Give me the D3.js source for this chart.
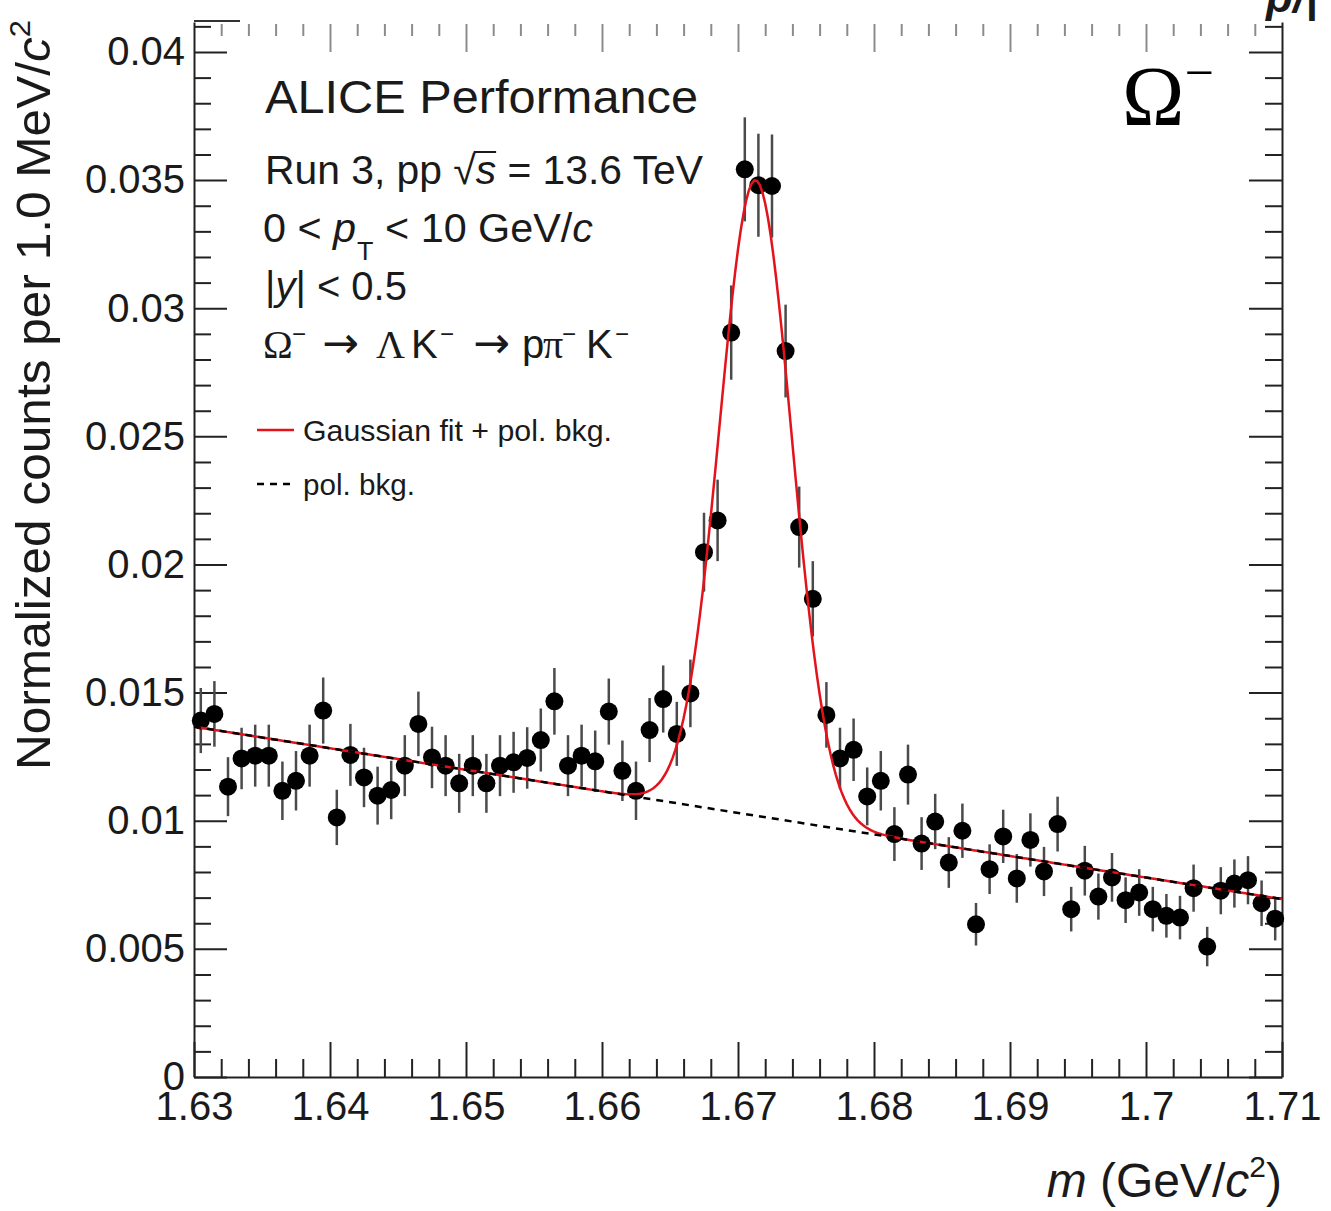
<!DOCTYPE html>
<html>
<head>
<meta charset="utf-8">
<script src="https://cdn.jsdelivr.net/npm/d3@7"></script>
<style>
  body { margin: 0; background: #fff; }
  svg { display: block; font-family: 'Liberation Sans', Arial, Helvetica, sans-serif; }
  .axis path, .axis line { stroke: #222; stroke-width: 2; }
  .axis text { font-family: 'Liberation Sans', Arial, sans-serif; font-size: 40px; fill: #1a1a1a; }
  .axis-top line { stroke: #8c8c8c; }
  .serif { font-family: 'Liberation Serif', 'Times New Roman', serif; }
  .arrow { font-family: 'DejaVu Sans', sans-serif; font-size: 44px; }
</style>
</head>
<body>
<script>

// Bin centres of the invariant mass histogram (GeV/c^2):
var mass = [
  1.6305, 1.6315, 1.6325, 1.6335, 1.6345, 1.6355, 1.6365, 1.6375, 1.6385, 1.6395,
  1.6405, 1.6415, 1.6425, 1.6435, 1.6445, 1.6455, 1.6465, 1.6475, 1.6485, 1.6495,
  1.6505, 1.6515, 1.6525, 1.6535, 1.6545, 1.6555, 1.6565, 1.6575, 1.6585, 1.6595,
  1.6605, 1.6615, 1.6625, 1.6635, 1.6645, 1.6655, 1.6665, 1.6675, 1.6685, 1.6695,
  1.6705, 1.6715, 1.6725, 1.6735, 1.6745, 1.6755, 1.6765, 1.6775, 1.6785, 1.6795,
  1.6805, 1.6815, 1.6825, 1.6835, 1.6845, 1.6855, 1.6865, 1.6875, 1.6885, 1.6895,
  1.6905, 1.6915, 1.6925, 1.6935, 1.6945, 1.6955, 1.6965, 1.6975, 1.6985, 1.6995,
  1.7005, 1.7015, 1.7025, 1.7035, 1.7045, 1.7055, 1.7065, 1.7075, 1.7085, 1.7095
];

// Normalized counts per bin:
var counts = [
  0.01391, 0.01417, 0.01133, 0.01243, 0.01254, 0.01254, 0.01117, 0.01156, 0.01254, 0.01430,
  0.01013, 0.01257, 0.01169, 0.01098, 0.01120, 0.01215, 0.01378, 0.01247, 0.01215, 0.01146,
  0.01215, 0.01146, 0.01215, 0.01228, 0.01245, 0.01315, 0.01466, 0.01215, 0.01254, 0.01232,
  0.01426, 0.01195, 0.01117, 0.01354, 0.01475, 0.01339, 0.01497, 0.02048, 0.02172, 0.02905,
  0.03542, 0.03480, 0.03477, 0.02833, 0.02146, 0.01866, 0.01413, 0.01243, 0.01277, 0.01095,
  0.01156, 0.00948, 0.01180, 0.00911, 0.00997, 0.00837, 0.00961, 0.00596, 0.00811, 0.00939,
  0.00775, 0.00925, 0.00802, 0.00987, 0.00655, 0.00805, 0.00704, 0.00779, 0.00690, 0.00720,
  0.00655, 0.00629, 0.00622, 0.00737, 0.00509, 0.00727, 0.00755, 0.00768, 0.00678, 0.00618
];

// Statistical uncertainty per bin:
var errors = [
  0.00127, 0.00128, 0.00115, 0.00120, 0.00121, 0.00121, 0.00114, 0.00116, 0.00121, 0.00129,
  0.00108, 0.00121, 0.00116, 0.00113, 0.00114, 0.00119, 0.00126, 0.00120, 0.00119, 0.00115,
  0.00119, 0.00115, 0.00119, 0.00119, 0.00120, 0.00123, 0.00130, 0.00119, 0.00121, 0.00120,
  0.00129, 0.00118, 0.00114, 0.00125, 0.00131, 0.00125, 0.00132, 0.00154, 0.00159, 0.00184,
  0.00203, 0.00201, 0.00201, 0.00181, 0.00158, 0.00147, 0.00128, 0.00120, 0.00122, 0.00113,
  0.00116, 0.00105, 0.00117, 0.00103, 0.00108, 0.00099, 0.00106, 0.00083, 0.00097, 0.00104,
  0.00095, 0.00104, 0.00096, 0.00107, 0.00087, 0.00097, 0.00090, 0.00095, 0.00089, 0.00091,
  0.00087, 0.00085, 0.00085, 0.00092, 0.00077, 0.00092, 0.00094, 0.00094, 0.00089, 0.00085
];

// Fit parameters (Gaussian + linear background):
var bkgAtStart = 0.01367;
var bkgSlope = -0.0841;
var gausAmp = 0.0248;
var gausMean = 1.6713;
var gausSigma = 0.00265;

// Tick values and labels:
var xTicks = [1.63, 1.64, 1.65, 1.66, 1.67, 1.68, 1.69, 1.70, 1.71];
var xTickLabels = ['1.63', '1.64', '1.65', '1.66', '1.67', '1.68', '1.69', '1.7', '1.71'];
var yTicks = [0, 0.005, 0.01, 0.015, 0.02, 0.025, 0.03, 0.035, 0.04];
var yTickLabels = ['0', '0.005', '0.01', '0.015', '0.02', '0.025', '0.03', '0.035', '0.04'];

var width = 1331;
var height = 1211;

var svg = d3.select('body')
  .append('svg')
  .attr('width', width)
  .attr('height', height);

// Scales:
var x = d3.scaleLinear().domain([1.63, 1.71]).range([194, 1282]);
var y = d3.scaleLinear().domain([0, 0.04117]).range([1077, 22]);

// Minor ticks (every 0.002 on x, every 0.001 on y):
var xMinor = d3.range(0, 41).map(function (i) { return 1.63 + i * 0.002; })
  .filter(function (d, i) { return i % 5 !== 0; });
var yMinor = d3.range(0, 42).map(function (i) { return i * 0.001; })
  .filter(function (d, i) { return i % 5 !== 0; });

function label(list) {
  return function (d, i) { return list[i]; };
}

// Bottom axis:
svg.append('g')
  .attr('class', 'axis axis-x')
  .attr('transform', 'translate(0,' + y(0) + ')')
  .call(d3.axisBottom(x).tickValues(xTicks).tickFormat(label(xTickLabels))
    .tickSizeInner(-35).tickSizeOuter(0).tickPadding(15));

svg.append('g')
  .attr('class', 'axis axis-x-minor')
  .attr('transform', 'translate(0,' + y(0) + ')')
  .call(d3.axisBottom(x).tickValues(xMinor).tickFormat('').tickSize(-18))
  .select('.domain').remove();

// Left axis:
svg.append('g')
  .attr('class', 'axis axis-y')
  .attr('transform', 'translate(' + x(1.63) + ',0)')
  .call(d3.axisLeft(y).tickValues(yTicks).tickFormat(label(yTickLabels))
    .tickSizeInner(-33).tickSizeOuter(0).tickPadding(9));

svg.append('g')
  .attr('class', 'axis axis-y-minor')
  .attr('transform', 'translate(' + x(1.63) + ',0)')
  .call(d3.axisLeft(y).tickValues(yMinor).tickFormat('').tickSize(-17))
  .select('.domain').remove();

// Right axis:
svg.append('g')
  .attr('class', 'axis axis-right')
  .attr('transform', 'translate(' + x(1.71) + ',0)')
  .call(d3.axisRight(y).tickValues(yTicks).tickFormat('').tickSizeInner(-33).tickSizeOuter(0));

svg.append('g')
  .attr('class', 'axis axis-right-minor')
  .attr('transform', 'translate(' + x(1.71) + ',0)')
  .call(d3.axisRight(y).tickValues(yMinor).tickFormat('').tickSize(-17))
  .select('.domain').remove();

// Top axis (faded ticks, short frame piece on the left):
svg.append('g')
  .attr('class', 'axis axis-top')
  .attr('transform', 'translate(0,24)')
  .call(d3.axisTop(x).tickValues(xTicks.slice(1, -1)).tickFormat('').tickSize(-28))
  .select('.domain').remove();

svg.append('g')
  .attr('class', 'axis axis-top')
  .attr('transform', 'translate(0,24)')
  .call(d3.axisTop(x).tickValues(xMinor).tickFormat('').tickSize(-12))
  .select('.domain').remove();

svg.append('line')
  .attr('x1', x(1.63)).attr('x2', 240)
  .attr('y1', 21).attr('y2', 21)
  .attr('stroke', '#333').attr('stroke-width', 2);

// Error bars and markers:
var points = svg.append('g').attr('class', 'points');

points.selectAll('line')
  .data(mass)
  .enter()
  .append('line')
  .attr('x1', function (d) { return x(d); })
  .attr('x2', function (d) { return x(d); })
  .attr('y1', function (d, i) { return y(counts[i] - errors[i]); })
  .attr('y2', function (d, i) { return y(counts[i] + errors[i]); })
  .attr('stroke', '#4a4a4a')
  .attr('stroke-width', 2.5);

points.selectAll('circle')
  .data(mass)
  .enter()
  .append('circle')
  .attr('cx', function (d) { return x(d); })
  .attr('cy', function (d, i) { return y(counts[i]); })
  .attr('r', 9)
  .attr('fill', '#000');

// Fit functions:
function bkg(m) {
  return bkgAtStart + bkgSlope * (m - 1.63);
}

function fit(m) {
  var z = (m - gausMean) / gausSigma;
  return bkg(m) + gausAmp * Math.exp(-0.5 * z * z);
}

var grid = d3.range(1.63, 1.71001, 0.0002);
var line = d3.line()
  .x(function (d) { return x(d); })
  .y(function (d) { return y(fit(d)); });

svg.append('path')
  .datum(grid)
  .attr('d', line)
  .attr('fill', 'none')
  .attr('stroke', '#e3121b')
  .attr('stroke-width', 2.5);

svg.append('path')
  .datum([1.63, 1.71])
  .attr('d', d3.line().x(function (d) { return x(d); }).y(function (d) { return y(bkg(d)); }))
  .attr('fill', 'none')
  .attr('stroke', '#000')
  .attr('stroke-width', 2.5)
  .attr('stroke-dasharray', '7,6');

// Axis titles:
var yTitle = svg.append('text')
  .attr('transform', 'translate(50,770) rotate(-90)')
  .attr('font-size', 48)
  .attr('fill', '#1a1a1a')
  .attr('textLength', 750)
  .attr('lengthAdjust', 'spacingAndGlyphs');
yTitle.append('tspan').text('Normalized counts per 1.0 MeV/');
yTitle.append('tspan').attr('font-style', 'italic').text('c');
yTitle.append('tspan').attr('font-size', 30).attr('dy', -20).text('2');

var xTitle = svg.append('text')
  .attr('x', 1282)
  .attr('y', 1197)
  .attr('text-anchor', 'end')
  .attr('font-size', 48)
  .attr('fill', '#1a1a1a');
xTitle.append('tspan').attr('font-style', 'italic').text('m');
xTitle.append('tspan').text(' (GeV/');
xTitle.append('tspan').attr('font-style', 'italic').text('c');
xTitle.append('tspan').attr('font-size', 30).attr('dy', -20).text('2');
xTitle.append('tspan').attr('dy', 20).text(')');

// Header text:
svg.append('text')
  .attr('x', 265).attr('y', 113)
  .attr('font-size', 47)
  .attr('fill', '#1a1a1a')
  .attr('textLength', 433)
  .attr('lengthAdjust', 'spacingAndGlyphs')
  .text('ALICE Performance');

var run = svg.append('text')
  .attr('x', 265).attr('y', 184)
  .attr('font-size', 40)
  .attr('fill', '#1a1a1a')
  .attr('textLength', 438)
  .attr('lengthAdjust', 'spacingAndGlyphs');
run.append('tspan').text('Run 3, pp ');
run.append('tspan').text('\u221A');
run.append('tspan').attr('font-style', 'italic').text('s');
run.append('tspan').text(' = 13.6 TeV');

// Bar over the s of the square root:
var rootBox = run.node().getExtentOfChar(10);
var sBox = run.node().getExtentOfChar(11);
svg.append('line')
  .attr('x1', rootBox.x + rootBox.width - 2).attr('x2', sBox.x + sBox.width)
  .attr('y1', rootBox.y + 4).attr('y2', rootBox.y + 4)
  .attr('stroke', '#1a1a1a').attr('stroke-width', 2);

var pt = svg.append('text')
  .attr('x', 263).attr('y', 242)
  .attr('font-size', 40)
  .attr('fill', '#1a1a1a')
  .attr('textLength', 330)
  .attr('lengthAdjust', 'spacingAndGlyphs');
pt.append('tspan').text('0 < ');
pt.append('tspan').attr('font-style', 'italic').text('p');
pt.append('tspan').attr('font-size', 26).attr('dy', 18).attr('dx', 1).text('T');
pt.append('tspan').attr('dy', -18).text(' < 10 GeV/');
pt.append('tspan').attr('font-style', 'italic').text('c');

var rap = svg.append('text')
  .attr('x', 265).attr('y', 300)
  .attr('font-size', 40)
  .attr('fill', '#1a1a1a');
rap.append('tspan').text('|');
rap.append('tspan').attr('font-style', 'italic').text('y');
rap.append('tspan').text('| < 0.5');

// Decay chain, each glyph placed along the line:
var decay = svg.append('text')
  .attr('y', 358)
  .attr('font-size', 40)
  .attr('fill', '#1a1a1a');
decay.append('tspan').attr('class', 'serif').attr('x', 263).text('\u03A9');
decay.append('tspan').attr('x', 292).attr('font-size', 24).attr('dy', -16).text('\u2212');
decay.append('tspan').attr('class', 'arrow').attr('x', 322).attr('dy', 16).text('\u2192');
decay.append('tspan').attr('class', 'serif').attr('x', 376).text('\u039B');
decay.append('tspan').attr('x', 411).text('K');
decay.append('tspan').attr('x', 440).attr('font-size', 24).attr('dy', -16).text('\u2212');
decay.append('tspan').attr('class', 'arrow').attr('x', 473).attr('dy', 16).text('\u2192');
decay.append('tspan').attr('x', 522).text('p');
decay.append('tspan').attr('class', 'serif').attr('x', 543).text('\u03C0');
decay.append('tspan').attr('x', 562).attr('font-size', 24).attr('dy', -16).text('\u2212');
decay.append('tspan').attr('x', 586).attr('dy', 16).text('K');
decay.append('tspan').attr('x', 615).attr('font-size', 24).attr('dy', -16).text('\u2212');

// Legend:
svg.append('line')
  .attr('x1', 257).attr('x2', 294).attr('y1', 430).attr('y2', 430)
  .attr('stroke', '#e3121b').attr('stroke-width', 2.5);
svg.append('text')
  .attr('x', 303).attr('y', 441)
  .attr('font-size', 29)
  .attr('fill', '#1a1a1a')
  .attr('textLength', 309)
  .attr('lengthAdjust', 'spacingAndGlyphs')
  .text('Gaussian fit + pol. bkg.');

svg.append('line')
  .attr('x1', 257).attr('x2', 294).attr('y1', 484).attr('y2', 484)
  .attr('stroke', '#000').attr('stroke-width', 2.5)
  .attr('stroke-dasharray', '7,6');
svg.append('text')
  .attr('x', 303).attr('y', 495)
  .attr('font-size', 29)
  .attr('fill', '#1a1a1a')
  .attr('textLength', 112)
  .attr('lengthAdjust', 'spacingAndGlyphs')
  .text('pol. bkg.');

// Particle label:
var omega = svg.append('text')
  .attr('x', 1122).attr('y', 125)
  .attr('class', 'serif')
  .attr('font-size', 84)
  .attr('fill', '#000');
omega.append('tspan').text('\u03A9');
omega.append('tspan').attr('font-size', 52).attr('dy', -35).text('\u2212');

// Cut-off text in the top right corner:
svg.append('text')
  .attr('x', 1266).attr('y', 12)
  .attr('font-size', 44)
  .attr('font-style', 'italic')
  .attr('font-weight', 'bold')
  .attr('fill', '#1a1a1a')
  .text('p/|');

</script>
</body>
</html>
